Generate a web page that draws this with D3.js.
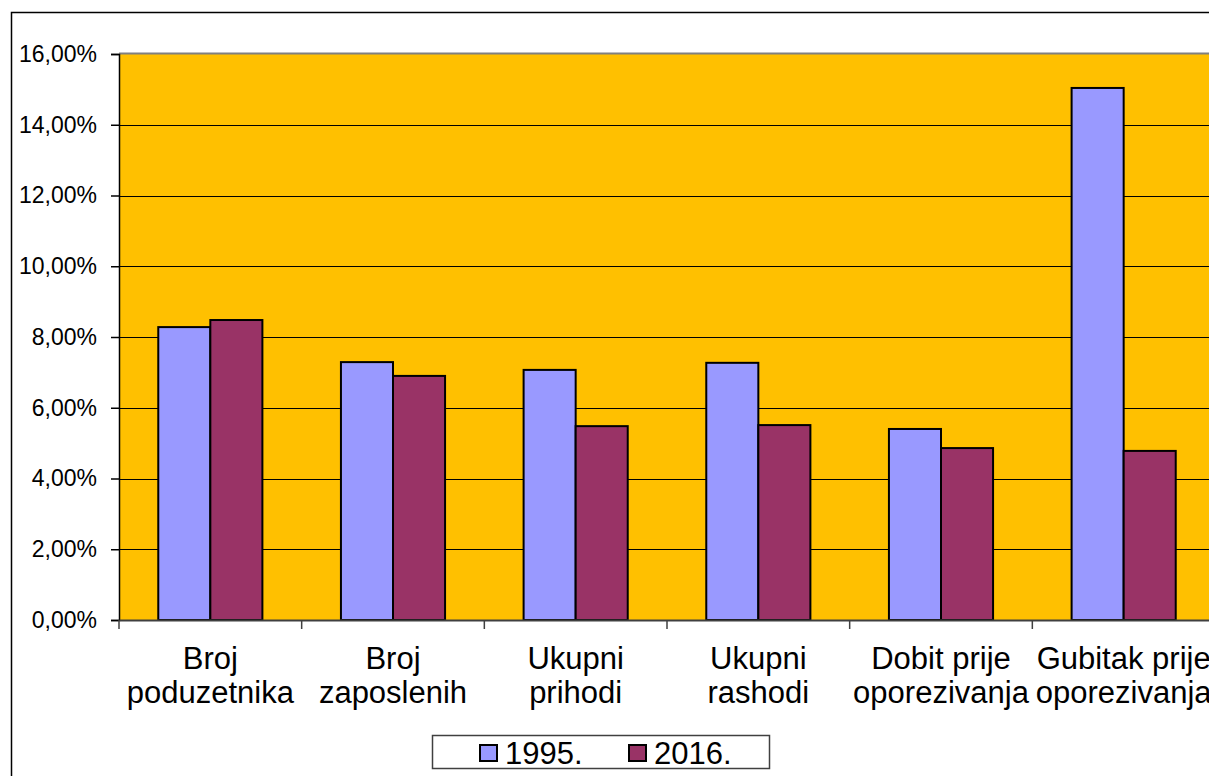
<!DOCTYPE html>
<html>
<head>
<meta charset="utf-8">
<script src="https://cdnjs.cloudflare.com/ajax/libs/d3/7.8.5/d3.min.js"></script>
<style>
  body { margin: 0; background: #fff; overflow: hidden; }
  text { font-family: "Liberation Sans", Arial, sans-serif; fill: #000; }
</style>
</head>
<body>
<div id="chart"></div>
<script>
const categories = [
  ['Broj', 'poduzetnika'],
  ['Broj', 'zaposlenih'],
  ['Ukupni', 'prihodi'],
  ['Ukupni', 'rashodi'],
  ['Dobit prije', 'oporezivanja'],
  ['Gubitak prije', 'oporezivanja']
];
const seriesNames = ['1995.', '2016.'];
const values1995 = [8.28, 7.29, 7.07, 7.27, 5.40, 15.04];
const values2016 = [8.48, 6.90, 5.48, 5.51, 4.86, 4.78];
const yTicks = [0, 2, 4, 6, 8, 10, 12, 14, 16];
const colors = ['#9999ff', '#993366'];

const width = 1209, height = 776;
const plot = {left: 119, top: 54, right: 1215, bottom: 620};

const svg = d3.select('#chart').append('svg')
  .attr('width', width)
  .attr('height', height);

// outer chart border (clipped by the window on the right and bottom)
svg.append('rect')
  .attr('x', 11.5).attr('y', 12.5)
  .attr('width', 1300).attr('height', 900)
  .attr('fill', '#fff').attr('stroke', '#000').attr('stroke-width', 1.5);

const keys = categories.map(d => d.join(' '));
const x0 = d3.scaleBand().domain(keys).range([plot.left, plot.right]).padding(0);
const x1 = d3.scaleBand().domain(seriesNames)
  .range([x0.bandwidth() * 0.215, x0.bandwidth() * 0.785]);
const y = d3.scaleLinear().domain([0, 16]).range([plot.bottom, plot.top]);

// plot background
svg.append('rect')
  .attr('x', plot.left).attr('y', plot.top)
  .attr('width', plot.right - plot.left).attr('height', plot.bottom - plot.top)
  .attr('fill', '#ffc000');

svg.append('line')
  .attr('x1', plot.left).attr('x2', plot.right)
  .attr('y1', plot.top - 0.5).attr('y2', plot.top - 0.5)
  .attr('stroke', '#808080').attr('stroke-width', 2);

// gridlines
svg.append('g').selectAll('line')
  .data(yTicks.filter(d => d > 0 && d < 16))
  .enter().append('line')
    .attr('x1', plot.left).attr('x2', plot.right)
    .attr('y1', d => Math.round(y(d)) + 0.5).attr('y2', d => Math.round(y(d)) + 0.5)
    .attr('stroke', '#000').attr('stroke-width', 1.2);

// bars
const rows = keys.map((k, i) => ({key: k, vals: [values1995[i], values2016[i]]}));
const groups = svg.append('g').selectAll('g')
  .data(rows)
  .enter().append('g')
    .attr('transform', d => 'translate(' + x0(d.key) + ',0)');

groups.selectAll('rect')
  .data(d => d.vals.map((v, j) => ({name: seriesNames[j], v: v, j: j})))
  .enter().append('rect')
    .attr('x', d => x1(d.name))
    .attr('y', d => y(d.v))
    .attr('width', x1.bandwidth())
    .attr('height', d => y(0) - y(d.v))
    .attr('fill', d => colors[d.j])
    .attr('stroke', '#000')
    .attr('stroke-width', 2);

// y axis
const yAxis = svg.append('g')
  .attr('transform', 'translate(' + plot.left + ',0)')
  .call(d3.axisLeft(y).tickValues(yTicks).tickSize(8).tickPadding(14)
    .tickFormat(d => d3.format('.2f')(d).replace('.', ',') + '%'));
yAxis.select('.domain').attr('stroke', '#000').attr('stroke-width', 1.5);
yAxis.selectAll('.tick line').attr('stroke', '#000').attr('stroke-width', 1.5);
yAxis.selectAll('text').style('font-size', '23px').attr('fill', '#000');

// x axis
const xAxis = svg.append('g')
  .attr('transform', 'translate(0,' + plot.bottom + ')')
  .call(d3.axisBottom(x0).tickSize(0).tickFormat(''));
xAxis.select('.domain').attr('stroke', '#404040').attr('stroke-width', 2);
xAxis.selectAll('.tick').remove();
xAxis.selectAll('.sep')
  .data(keys)
  .enter().append('line')
    .attr('x1', d => x0(d)).attr('x2', d => x0(d))
    .attr('y1', 0).attr('y2', 9)
    .attr('stroke', '#404040').attr('stroke-width', 1.5);

// category labels
const labels = svg.append('g').selectAll('text')
  .data(categories)
  .enter().append('text')
    .attr('text-anchor', 'middle')
    .style('font-size', '31px')
    .attr('x', (d, i) => x0(keys[i]) + x0.bandwidth() / 2)
    .attr('y', 669);
labels.selectAll('tspan')
  .data(d => d)
  .enter().append('tspan')
    .attr('x', function() { return d3.select(this.parentNode).attr('x'); })
    .attr('dy', (d, i) => i === 0 ? 0 : 34)
    .text(d => d);

// legend
const legend = svg.append('g');
legend.append('rect')
  .attr('x', 432.5).attr('y', 735.5).attr('width', 337).attr('height', 33)
  .attr('fill', '#fff').attr('stroke', '#404040').attr('stroke-width', 1.5);
const items = legend.selectAll('.item')
  .data(seriesNames)
  .enter().append('g')
    .attr('transform', (d, i) => 'translate(' + (480 + i * 149) + ',0)');
items.append('rect')
  .attr('x', 0).attr('y', 745).attr('width', 17).attr('height', 16)
  .attr('fill', (d, i) => colors[i]).attr('stroke', '#000').attr('stroke-width', 2);
items.append('text')
  .attr('x', 25).attr('y', 764)
  .style('font-size', '31px')
  .text(d => d);
</script>
</body>
</html>
